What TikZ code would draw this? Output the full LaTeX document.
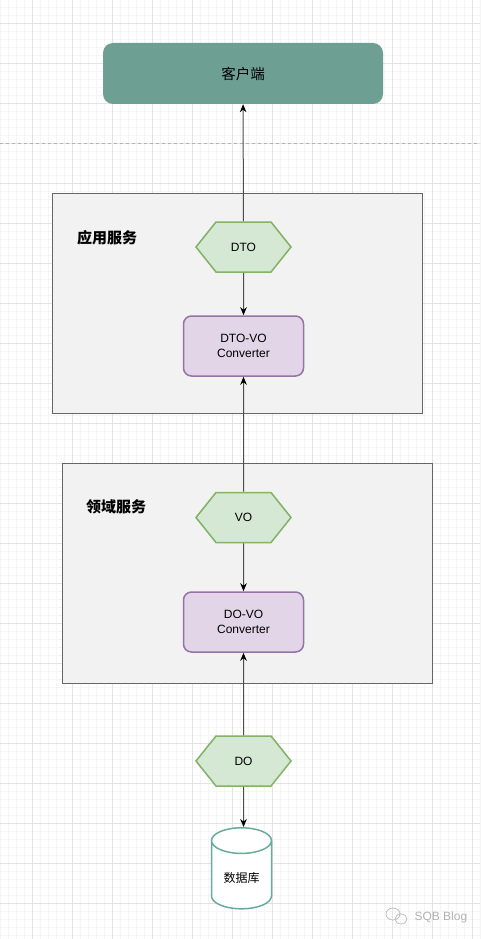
\documentclass[tikz,border=0pt]{standalone}
\usepackage{fontspec}
\setmainfont{Liberation Sans}
\newfontfamily\cjk{Noto Sans CJK SC}
\usetikzlibrary{arrows.meta,shapes.geometric,shapes.symbols}
\definecolor{clientfill}{HTML}{6D9F93}
\definecolor{hexfill}{HTML}{D5E8D4}
\definecolor{hexline}{HTML}{82B366}
\definecolor{convfill}{HTML}{E1D5E7}
\definecolor{convline}{HTML}{9673A6}
\definecolor{dbline}{HTML}{67AB9F}

\begin{document}
\begin{tikzpicture}[x=1pt,y=-1pt,
    gridminor/.style={draw=black!4,line width=0.6pt},
    gridmajor/.style={draw=black!11,line width=0.8pt},
    clientbox/.style={fill=clientfill,rounded corners=10pt,minimum width=280,minimum height=61,font=\cjk\fontsize{14.5}{16}\selectfont},
    layerbox/.style={draw=black!60,fill=black!5,line width=0.8pt,minimum width=370,minimum height=220},
    layertitle/.style={font=\cjk\bfseries\fontsize{15}{17}\selectfont},
    hexbox/.style={signal,signal to=west and east,signal pointer angle=102.7,draw=hexline,fill=hexfill,line width=1.5pt,minimum width=95,minimum height=50,inner sep=0pt,font=\fontsize{12}{14}\selectfont},
    convbox/.style={draw=convline,fill=convfill,line width=1.5pt,rounded corners=8pt,minimum width=120,minimum height=60,align=center,font=\fontsize{12}{15}\selectfont},
    dbcyl/.style={cylinder,shape border rotate=90,aspect=0.6,draw=dbline,fill=white,line width=1.5pt,minimum width=60,minimum height=81,font=\cjk\fontsize{12}{14}\selectfont},
    conn/.style={draw=black!70,line width=1pt,-{Stealth[length=8pt,width=6.5pt,inset=2.5pt,color=black]}}]
  \useasboundingbox[fill=white] (0,0) rectangle (480,939);
  \foreach \x in {0,8,...,480} \draw[gridminor] (\x,0) -- (\x,939);
  \foreach \y in {7,15,...,939} \draw[gridminor] (0,\y) -- (480,\y);
  \foreach \x in {32,72,...,480} \draw[gridmajor] (\x,0) -- (\x,939);
  \foreach \y in {23,63,...,939} \draw[gridmajor] (0,\y) -- (480,\y);
  \draw[black!30,line width=0.8pt,dash pattern=on 3pt off 3pt] (0,143) -- (480,143);

  \node[clientbox] (client) at (243,73.5) {客户端};

  \node[layerbox] (appsvc) at (237.5,303) {};
  \node[layertitle] (apptitle) at (107,238) {应用服务};
  \node[hexbox] (dto) at (243.5,247) {DTO};
  \node[convbox] (dtovo) at (243.5,346) {DTO-VO\\Converter};

  \node[layerbox] (domsvc) at (247,573) {};
  \node[layertitle] (domtitle) at (116,507) {领域服务};
  \node[hexbox] (vo) at (243.5,517.5) {VO};
  \node[convbox] (dovo) at (243.5,622) {DO-VO\\Converter};

  \node[hexbox] (do) at (243.5,761) {DO};
  \node[dbcyl] (db) at (241.5,878) {数据库};

  \draw[conn] (dto) -- (client);
  \draw[conn] (dto) -- (dtovo);
  \draw[conn] (vo) -- (dtovo);
  \draw[conn] (vo) -- (dovo);
  \draw[conn] (do) -- (dovo);
  \draw[conn] (do) -- (do |- db.north);

  \draw[black!25,line width=0.8pt] (393,914) ellipse (7 and 6) (401,919) ellipse (6 and 5);
  \node[text=black!30,font=\fontsize{12}{14}\selectfont,anchor=west] (blog) at (411,917) {SQB Blog};
\end{tikzpicture}
\end{document}
